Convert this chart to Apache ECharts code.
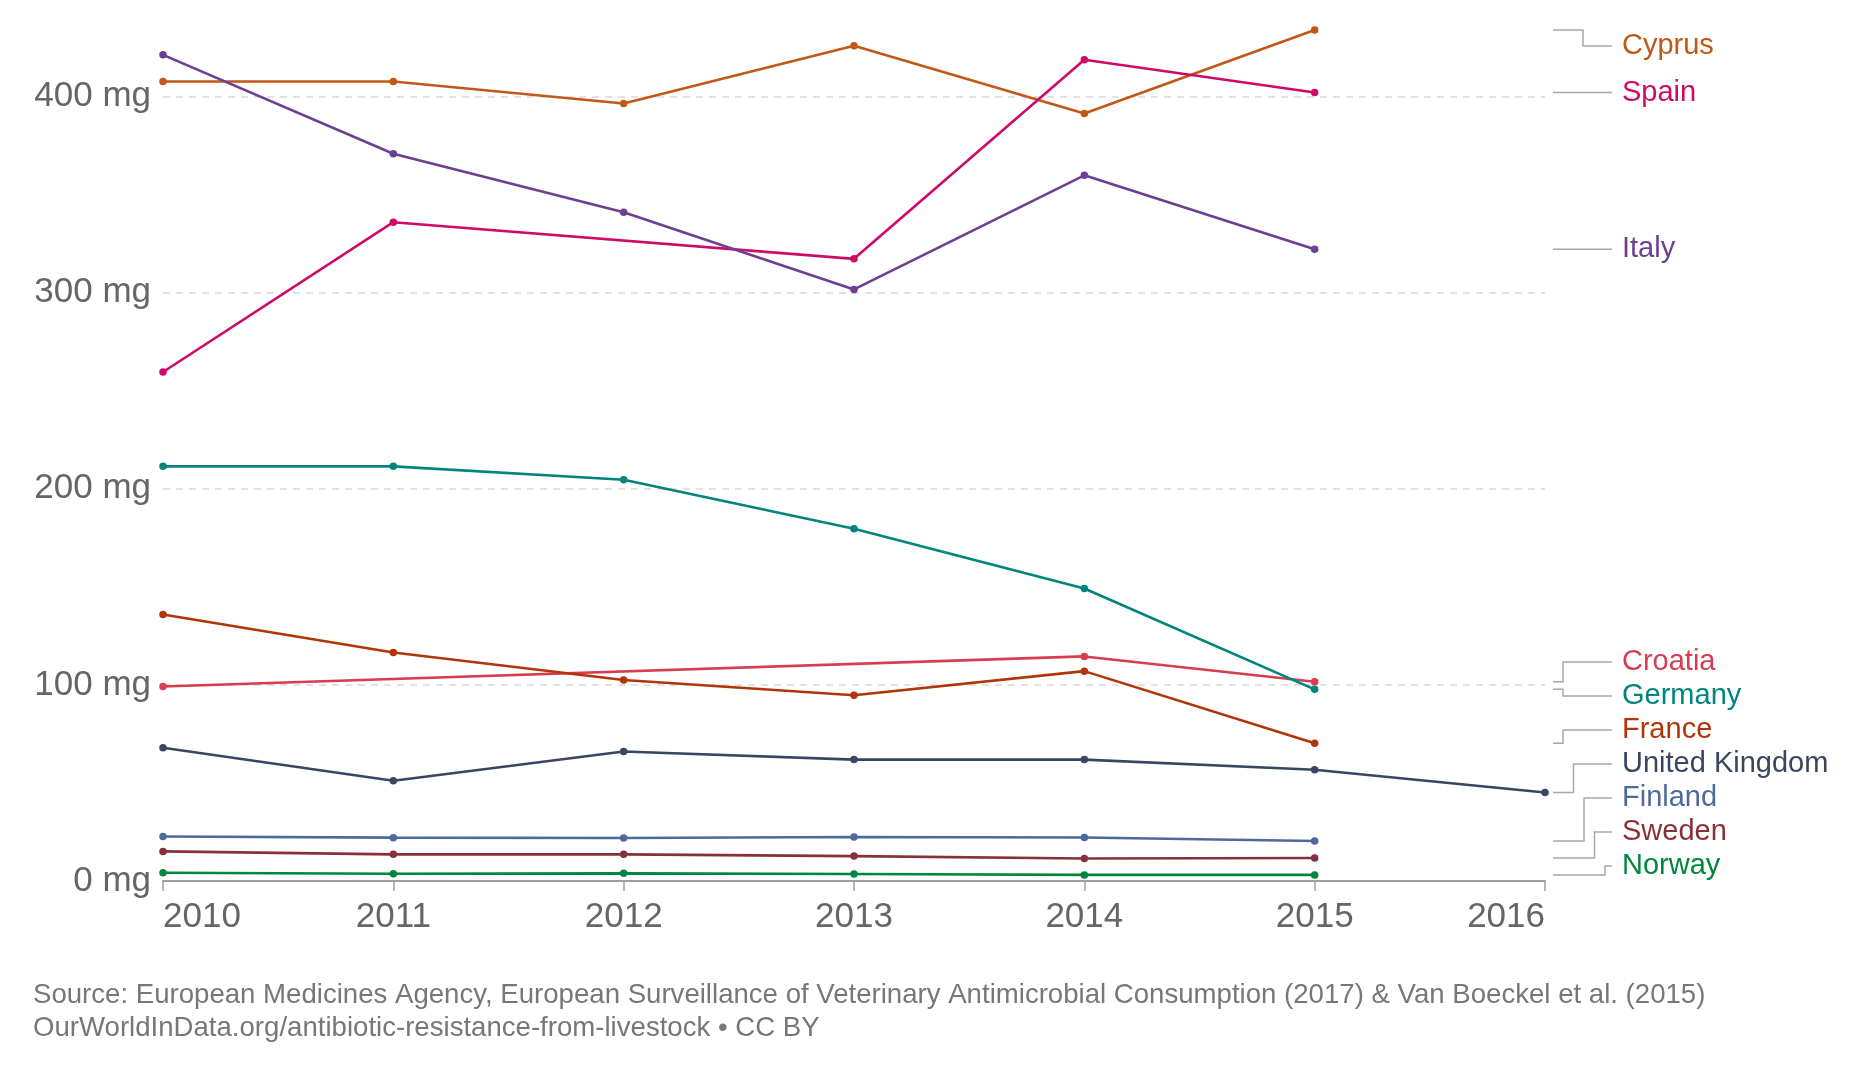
<!DOCTYPE html>
<html>
<head>
<meta charset="utf-8">
<script src="https://cdn.jsdelivr.net/npm/echarts@6/dist/echarts.min.js"></script>
<style>
html,body{margin:0;padding:0;background:#fff;}
#main{width:1866px;height:1076px;}
</style>
</head>
<body>
<div id="main"></div>
<script>
// ---- data ----
const years = [2010, 2011, 2012, 2013, 2014, 2015, 2016];
const yTicks = [0, 100, 200, 300, 400];
const countries = ['Cyprus', 'Spain', 'Italy', 'Croatia', 'Germany', 'France', 'United Kingdom', 'Finland', 'Sweden', 'Norway'];
const cyprus  = [407.6, 407.6, 396.4, 425.8, 391.3, 433.9, null];
const spain   = [259.5, 335.9, null, 317.2, 418.7, 402.0, null];
const italy   = [421.2, 370.8, 341.0, 301.6, 359.8, 322.1, null];
const croatia = [99.2, null, null, null, 114.5, 101.6, null];
const germany = [211.4, 211.4, 204.6, 179.6, 149.1, 97.7, null];
const france  = [135.9, 116.5, 102.5, 94.7, 107.0, 70.2, null];
const uk      = [67.9, 51.1, 66.0, 61.9, 61.9, 56.7, 45.1];
const finland = [22.7, 22.1, 21.9, 22.4, 22.2, 20.4, null];
const sweden  = [15.1, 13.6, 13.6, 12.7, 11.5, 11.7, null];
const norway  = [4.2, 3.7, 3.9, 3.6, 3.1, 3.1, null];
const seriesValues = [cyprus, spain, italy, croatia, germany, france, uk, finland, sweden, norway];
const colors = ['#c05917', '#cf0a66', '#6d3e91', '#d73c50', '#00847e', '#b13507', '#38465f', '#4c6a9c', '#883039', '#00873e'];
const sourceText = 'Source: European Medicines Agency, European Surveillance of Veterinary Antimicrobial Consumption (2017) & Van Boeckel et al. (2015)';
const urlText = 'OurWorldInData.org/antibiotic-resistance-from-livestock \u2022 CC BY';

const FONT = "'Liberation Sans', Arial, sans-serif";
const chart = echarts.init(document.getElementById('main'), null, {renderer: 'canvas'});

const series = countries.map((name, i) => ({
  name: name,
  type: 'line',
  data: years.map((y, j) => [y, seriesValues[i][j]]),
  connectNulls: true,
  symbol: 'circle',
  symbolSize: 7.5,
  showSymbol: true,
  lineStyle: {width: 2.6, color: colors[i]},
  itemStyle: {color: colors[i]},
  clip: false,
  animation: false,
  z: 3
}));

const option = {
  animation: false,
  backgroundColor: '#fff',
  grid: {left: 163, right: 321, top: 18, bottom: 195},
  xAxis: {
    type: 'value', min: years[0], max: years[years.length - 1], interval: 1,
    axisLine: {show: true, lineStyle: {color: '#a0a0a0', width: 2}},
    axisTick: {show: true, length: 10, lineStyle: {color: '#a0a0a0', width: 1.5}},
    axisLabel: {
      color: '#666', fontSize: 35, fontFamily: FONT, margin: 19,
      alignMinLabel: 'left', alignMaxLabel: 'right',
      formatter: v => String(v)
    },
    splitLine: {show: false}
  },
  yAxis: {
    type: 'value', min: yTicks[0], max: 440, interval: 100,
    axisLine: {show: false}, axisTick: {show: false},
    axisLabel: {
      color: '#666', fontSize: 35, fontFamily: FONT, margin: 12, showMaxLabel: false,
      formatter: v => (yTicks.indexOf(v) >= 0 ? v + ' mg' : '')
    },
    splitLine: {show: true, showMinLine: false, showMaxLine: false,
      lineStyle: {color: '#d9d9d9', width: 1.5, type: [7, 6]}}
  },
  series: series
};
chart.setOption(option);

// ---- right-hand labels with connector lines ----
function buildLabels() {
  const items = countries.map((name, i) => {
    const vals = seriesValues[i];
    let last = vals.length - 1;
    while (vals[last] == null) last--;
    const p = chart.convertToPixel({gridIndex: 0}, [years[last], vals[last]]);
    return {name: name, color: colors[i], target: p[1]};
  });
  items.sort((a, b) => a.target - b.target);
  const gap = 34, minY = 46, maxY = 866;
  let clusters = items.map(it => ({members: [it]}));
  function place(cl) {
    const mean = cl.members.reduce((s, m) => s + m.target, 0) / cl.members.length;
    let top = mean - (cl.members.length - 1) * gap / 2;
    top = Math.max(top, minY);
    const bottom = top + (cl.members.length - 1) * gap;
    if (bottom > maxY) top -= bottom - maxY;
    cl.top = top;
    cl.bottom = top + (cl.members.length - 1) * gap;
  }
  let merged = true;
  while (merged) {
    merged = false;
    clusters.forEach(place);
    for (let k = 0; k < clusters.length - 1; k++) {
      if (clusters[k].bottom + gap > clusters[k + 1].top + 0.01) {
        clusters[k].members = clusters[k].members.concat(clusters[k + 1].members);
        clusters.splice(k + 1, 1);
        merged = true;
        break;
      }
    }
  }
  clusters.forEach(place);
  const elements = [];
  const rect = chart.getModel().getComponent('grid', 0).coordinateSystem.getRect();
  const x0 = rect.x + rect.width + 8, x3 = x0 + 59, xt = x3 + 10;
  const base = x0 + 10, step = 10.5;
  clusters.forEach(cl => {
    let upCount = 0;
    cl.members.forEach((m, idx) => {
      const ly = cl.top + idx * gap;
      let pts;
      if (Math.abs(ly - m.target) < 1.5) {
        pts = [[x0, m.target], [x3, m.target]];
      } else {
        let xe;
        if (cl.members.length === 1) {
          xe = x0 + 30;
        } else if (ly < m.target) {
          xe = base + step * upCount;
          upCount++;
        } else {
          xe = base;
          upCount = 0;
        }
        pts = [[x0, m.target], [xe, m.target], [xe, ly], [x3, ly]];
      }
      elements.push({type: 'polyline', silent: true, z: 5,
        shape: {points: pts}, style: {stroke: '#a8a8a8', lineWidth: 1.5, fill: null}});
      elements.push({type: 'text', silent: true, z: 5, x: xt, y: ly,
        style: {text: m.name, fill: m.color, font: '29px ' + FONT, verticalAlign: 'middle'}});
    });
  });
  elements.push({type: 'text', silent: true, x: 33, y: 995,
    style: {text: sourceText, fill: '#777', font: '27.6px ' + FONT, verticalAlign: 'middle'}});
  elements.push({type: 'text', silent: true, x: 33, y: 1028,
    style: {text: urlText, fill: '#777', font: '27.6px ' + FONT, verticalAlign: 'middle'}});
  chart.setOption({graphic: {elements: elements}});
}
buildLabels();
</script>
</body>
</html>
